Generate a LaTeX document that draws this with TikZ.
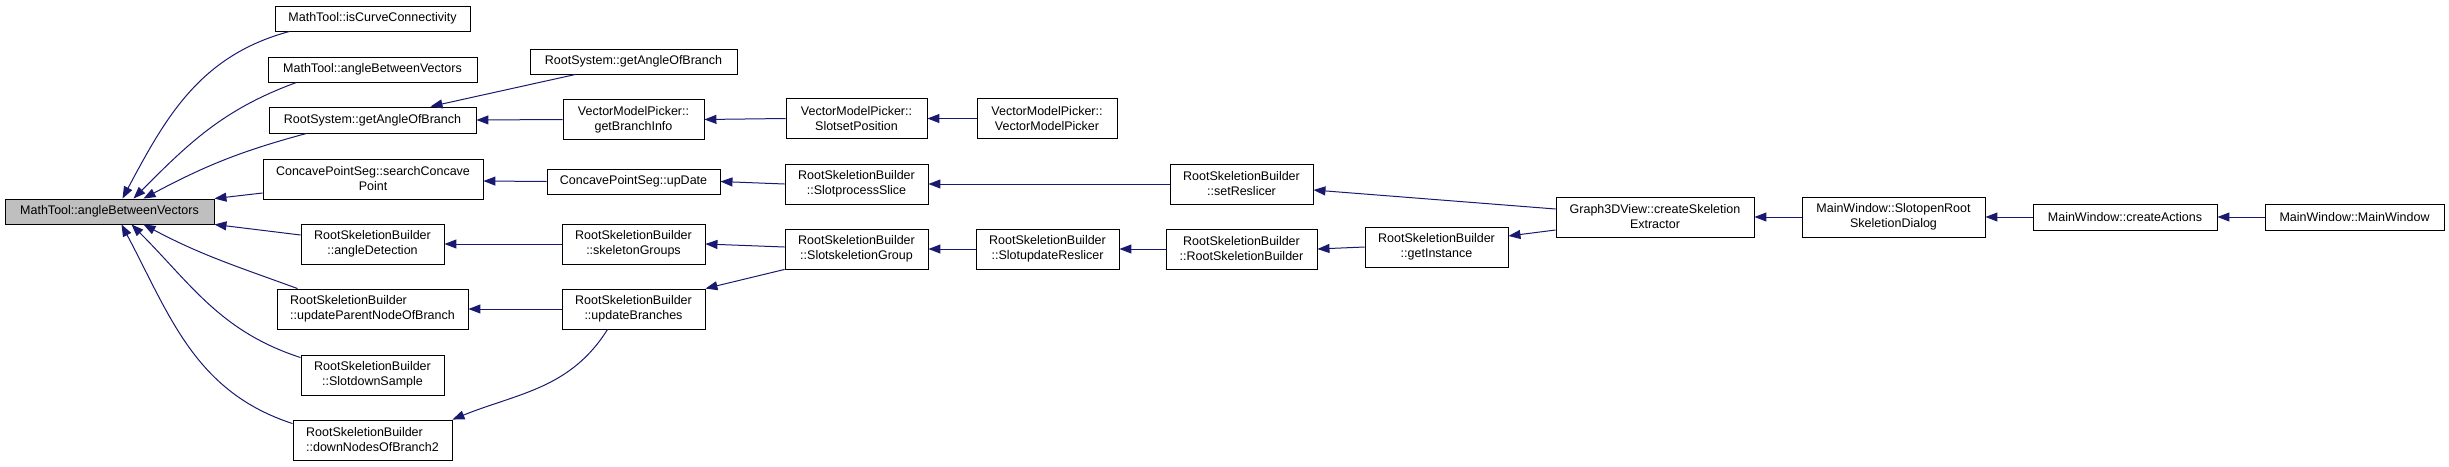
\documentclass[tikz,border=0pt]{standalone}
\usepackage{fontspec}
\setmainfont{Liberation Sans}
\usepackage{xcolor}
\usepackage{tikz}
\usetikzlibrary{arrows.meta,calc}
\definecolor{edgeblue}{HTML}{191970}
\tikzset{
  fn/.style={rectangle, draw=black, line width=0.9pt, fill=white, align=center,
             inner sep=1pt, font=\fontsize{12.5}{15}\selectfont},
  fnroot/.style={fn, fill=black!25},
  ar/.style={-{Triangle[length=12pt,width=9pt]}, draw=edgeblue, line width=1pt}
}
\begin{document}
\begin{tikzpicture}[x=1pt, y=-1pt]
\useasboundingbox (0,0) rectangle (2449,466);
% ---- column 0: the function itself ----
\node[fnroot, minimum width=209pt, minimum height=25pt] (root) at (109.5,211.5) {MathTool::angleBetweenVectors};
% ---- column 1: direct callers ----
\node[fn, minimum width=195pt, minimum height=25pt] (iscurve) at (372.5,18.5) {MathTool::isCurveConnectivity};
\node[fn, minimum width=209pt, minimum height=25pt] (anglebv) at (372.5,69.5) {MathTool::angleBetweenVectors};
\node[fn, minimum width=207pt, minimum height=26pt] (getangleA) at (372.5,120) {RootSystem::getAngleOfBranch};
\node[fn, minimum width=220pt, minimum height=40pt] (searchconc) at (373,179) {ConcavePointSeg::searchConcave\\Point};
\node[fn, minimum width=143pt, minimum height=40pt] (angledet) at (372.5,244) {RootSkeletionBuilder\\::angleDetection};
\node[fn, align=left, minimum width=191pt, minimum height=40pt] (updparent) at (372.5,309) {RootSkeletionBuilder\\::updateParentNodeOfBranch};
\node[fn, minimum width=143pt, minimum height=40pt] (downsample) at (372.5,375) {RootSkeletionBuilder\\::SlotdownSample};
\node[fn, align=left, minimum width=159pt, minimum height=40pt] (downnodes) at (372.5,440) {RootSkeletionBuilder\\::downNodesOfBranch2};
% ---- column 2 ----
\node[fn, minimum width=207pt, minimum height=25pt] (getangleB) at (633.5,61.5) {RootSystem::getAngleOfBranch};
\node[fn, minimum width=141pt, minimum height=40pt] (branchinfo) at (633.5,119.5) {VectorModelPicker::\\getBranchInfo};
\node[fn, minimum width=173pt, minimum height=25pt] (update) at (633.5,181.5) {ConcavePointSeg::upDate};
\node[fn, minimum width=143pt, minimum height=40pt] (skelgroups) at (633.5,244) {RootSkeletionBuilder\\::skeletonGroups};
\node[fn, minimum width=143pt, minimum height=40pt] (updbranches) at (633.5,309) {RootSkeletionBuilder\\::updateBranches};
% ---- column 3 ----
\node[fn, minimum width=141pt, minimum height=40pt] (setpos) at (856.5,118.5) {VectorModelPicker::\\SlotsetPosition};
\node[fn, minimum width=143pt, minimum height=40pt] (procslice) at (856.5,184) {RootSkeletionBuilder\\::SlotprocessSlice};
\node[fn, minimum width=143pt, minimum height=40pt] (skelgroup) at (856.5,249) {RootSkeletionBuilder\\::SlotskeletionGroup};
% ---- column 4 ----
\node[fn, minimum width=140pt, minimum height=40pt] (vmpicker) at (1047,118.5) {VectorModelPicker::\\VectorModelPicker};
\node[fn, minimum width=143pt, minimum height=40pt] (updreslicer) at (1047.5,249) {RootSkeletionBuilder\\::SlotupdateReslicer};
% ---- column 5 ----
\node[fn, minimum width=143pt, minimum height=40pt] (setreslicer) at (1241.5,184) {RootSkeletionBuilder\\::setReslicer};
\node[fn, minimum width=151pt, minimum height=40pt] (ctor) at (1241.5,249) {RootSkeletionBuilder\\::RootSkeletionBuilder};
% ---- columns 6 to 10 ----
\node[fn, minimum width=143pt, minimum height=40pt] (instance) at (1436.5,247) {RootSkeletionBuilder\\::getInstance};
\node[fn, minimum width=198pt, minimum height=40pt] (extractor) at (1655,217) {Graph3DView::createSkeletion\\Extractor};
\node[fn, minimum width=183pt, minimum height=40pt] (opendlg) at (1893.5,217) {MainWindow::SlotopenRoot\\SkeletionDialog};
\node[fn, minimum width=184pt, minimum height=26pt] (actions) at (2125,217) {MainWindow::createActions};
\node[fn, minimum width=179pt, minimum height=26pt] (mainwin) at (2354.5,217) {MainWindow::MainWindow};
% ---- calls into the function ----
\draw[ar] ([xshift=15pt]iscurve.south west) to[out=195, in=62] ([xshift=13pt]root.north);
\draw[ar] ([xshift=29pt]anglebv.south west) to[out=200, in=45] ([xshift=24pt]root.north);
\draw[ar] ([xshift=38pt]getangleA.south west) to[out=195, in=28] ([xshift=34pt]root.north);
\draw[ar] ([yshift=-14pt]searchconc.west) -- (root.north east);
\draw[ar] ([yshift=9pt]angledet.west) -- (root.south east);
\draw[ar] ([xshift=21pt]updparent.north west) to[out=160, in=-28] ([xshift=34pt]root.south);
\draw[ar] ([yshift=-3pt]downsample.north west) to[out=162, in=-45] ([xshift=22pt]root.south);
\draw[ar] ([yshift=-4pt]downnodes.north west) to[out=162, in=-62] ([xshift=12pt]root.south);
% ---- further callers ----
\draw[ar] ([xshift=-58pt]getangleB.south) -- ([xshift=58pt]getangleA.north);
\draw[ar] (branchinfo.west) -- (getangleA.east);
\draw[ar] (update.west) -- ([yshift=-2pt]searchconc.east);
\draw[ar] (skelgroups.west) -- (angledet.east);
\draw[ar] (updbranches.west) -- (updparent.east);
\draw[ar] ([xshift=-26pt]updbranches.south) to[out=238, in=22] (downnodes.north east);
\draw[ar] (setpos.west) -- (branchinfo.east);
\draw[ar] (procslice.west) -- (update.east);
\draw[ar] ([yshift=2pt]skelgroup.west) -- (skelgroups.east);
\draw[ar] (skelgroup.south west) -- (updbranches.north east);
\draw[ar] (vmpicker.west) -- (setpos.east);
\draw[ar] (setreslicer.west) -- (procslice.east);
\draw[ar] (updreslicer.west) -- (skelgroup.east);
\draw[ar] (ctor.west) -- (updreslicer.east);
\draw[ar] (instance.west) -- (ctor.east);
\draw[ar] ([yshift=8pt]extractor.west) -- ([yshift=-6pt]setreslicer.east);
\draw[ar] ([yshift=-13pt]extractor.west) -- ([yshift=11pt]instance.east);
\draw[ar] (opendlg.west) -- (extractor.east);
\draw[ar] (actions.west) -- (opendlg.east);
\draw[ar] (mainwin.west) -- (actions.east);
\end{tikzpicture}
\end{document}
